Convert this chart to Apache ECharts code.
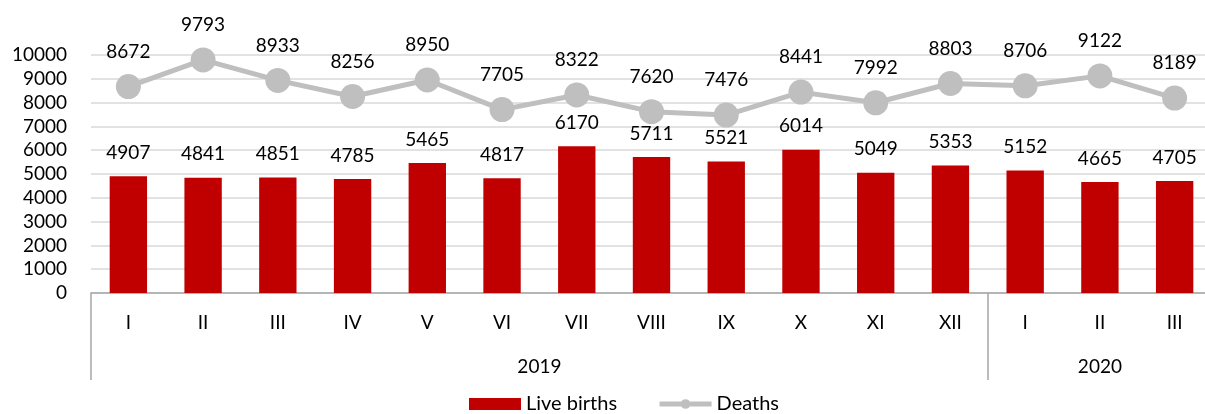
<!DOCTYPE html>
<html><head><meta charset="utf-8">
<script src="https://cdn.jsdelivr.net/npm/echarts@6/dist/echarts.min.js"></script>
<style>html,body{margin:0;padding:0;background:#fff}#c{width:1205px;height:414px}</style>
</head><body><div id="c"></div>
<script>
const months = ['I','II','III','IV','V','VI','VII','VIII','IX','X','XI','XII','I','II','III'];
const liveBirths = [4907,4841,4851,4785,5465,4817,6170,5711,5521,6014,5049,5353,5152,4665,4705];
const deaths = [8672,9793,8933,8256,8950,7705,8322,7620,7476,8441,7992,8803,8706,9122,8189];
const years = ['2019','2020'];
const yearSpans = [12,3];
const yTicks = [0,1000,2000,3000,4000,5000,6000,7000,8000,9000,10000];

const yearStarts = []; const yearCenters = {};
let acc = 0;
years.forEach((y,i)=>{ yearStarts.push(acc); yearCenters[acc + yearSpans[i]/2] = y; acc += yearSpans[i]; });

const FONT = 'Lato';
const chart = echarts.init(document.getElementById('c'));
chart.setOption({
  animation:false,
  textStyle:{fontFamily:FONT},
  grid:{left:91,width:1121,top:55,bottom:121,containLabel:false,outerBoundsMode:'none'},
  legend:{
    top:389, left:464, itemGap:40,
    textStyle:{fontFamily:FONT,fontSize:20,color:'#000'},
    data:[
      {name:'Live births', icon:'rect', itemStyle:{color:'#c00000'}},
      {name:'Deaths', lineStyle:{width:5,color:'#bfbfbf'}, itemStyle:{color:'#bfbfbf'}}
    ],
    itemWidth:52, itemHeight:12
  },
  xAxis:[
    {type:'category', data:months, boundaryGap:true,
     axisLine:{lineStyle:{color:'#a6a6a6',width:1.5}},
     axisTick:{show:true,length:87,lineStyle:{color:'#a6a6a6',width:1.5},
       interval:(i)=>yearStarts.includes(i)},
     axisLabel:{color:'#000',fontSize:19,margin:20,fontFamily:FONT}},
    {type:'value', min:0, max:acc, interval:0.5, position:'bottom',
     axisLine:{show:false}, axisTick:{show:false}, splitLine:{show:false},
     axisLabel:{color:'#000',fontSize:19,margin:64,fontFamily:FONT,
       showMinLabel:true, showMaxLabel:true,
       formatter:(v)=>yearCenters[v]||''}}
  ],
  yAxis:{type:'value', min:yTicks[0], max:yTicks[yTicks.length-1], interval:1000,
    axisLine:{show:false}, axisTick:{show:false},
    splitLine:{lineStyle:{color:'#d9d9d9',width:1.5}},
    axisLabel:{color:'#000',fontSize:19,margin:24,fontFamily:FONT,formatter:(v)=>String(v)}},
  series:[
    {name:'Live births', type:'bar', data:liveBirths, barWidth:'50%',
     itemStyle:{color:'#c00000'},
     label:{show:true,position:'top',distance:14,color:'#000',fontSize:19,fontFamily:FONT}},
    {name:'Deaths', type:'line', data:deaths, symbol:'circle', symbolSize:25,
     lineStyle:{color:'#bfbfbf',width:5}, itemStyle:{color:'#bfbfbf'},
     label:{show:true,position:'top',distance:13,color:'#000',fontSize:19,fontFamily:FONT}}
  ]
});
</script></body></html>
